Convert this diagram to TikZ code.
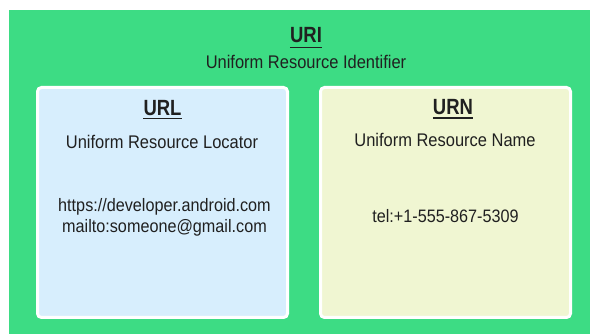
\documentclass[tikz,border=0pt]{standalone}
\usepackage{fontspec}
\setmainfont{Liberation Sans}[FakeStretch=0.9]
\newfontfamily\headfont{Liberation Sans}[FakeStretch=0.84]
\definecolor{droidgreen}{HTML}{3DDC84}
\definecolor{urlfill}{HTML}{D7EEFD}
\definecolor{urnfill}{HTML}{F0F6D2}
\definecolor{ink}{HTML}{202020}
\tikzset{
  panel/.style={draw=white, line width=3pt, rounded corners=4pt,
    minimum width=250pt, minimum height=230pt, inner sep=0pt},
  heading/.style={font=\headfont\fontsize{22}{24}\selectfont\bfseries, text=ink,
    anchor=base, inner sep=0pt},
  caption/.style={font=\fontsize{18.3}{20}\selectfont, text=ink,
    anchor=base, inner sep=0pt},
  sample/.style={font=\fontsize{18}{20}\selectfont, text=ink,
    anchor=base, inner sep=0pt},
  rule/.style={draw=ink, line width=1.4pt}
}
\begin{document}
\begin{tikzpicture}[x=1pt, y=-1pt]
  \useasboundingbox (0,0) rectangle (590,334);
  \fill[white] (0,0) rectangle (590,334);

  % outer URI area
  \node[fill=droidgreen, minimum width=581pt, minimum height=324pt,
        inner sep=0pt, anchor=north west] (uri) at (9,10) {};
  \node[heading] (uriT) at (306,43) {URI};
  \draw[rule] ([yshift=-4.5pt]uriT.base west) -- ([yshift=-4.5pt]uriT.base east);
  \node[caption] (uriS) at (306,68.3) {Uniform Resource Identifier};

  % URL panel
  \node[panel, fill=urlfill] (url) at (162.5,202.5) {};
  \node[heading] (urlT) at (162.5,115.5) {URL};
  \draw[rule] ([yshift=-3pt]urlT.base west) -- ([yshift=-3pt]urlT.base east);
  \node[caption] (urlS) at (162,148.3) {Uniform Resource Locator};
  \node[sample] (urlA) at (164.5,211.7) {https://developer.android.com};
  \node[sample] (urlB) at (164.5,232.7) {mailto:someone@gmail.com};

  % URN panel
  \node[panel, fill=urnfill] (urn) at (445.5,202.5) {};
  \node[heading] (urnT) at (453,114.5) {URN};
  \draw[rule] ([yshift=-3.5pt]urnT.base west) -- ([yshift=-3.5pt]urnT.base east);
  \node[caption] (urnS) at (445,146.7) {Uniform Resource Name};
  \node[sample] (urnA) at (445.5,222.3) {tel:+1-555-867-5309};
\end{tikzpicture}
\end{document}
